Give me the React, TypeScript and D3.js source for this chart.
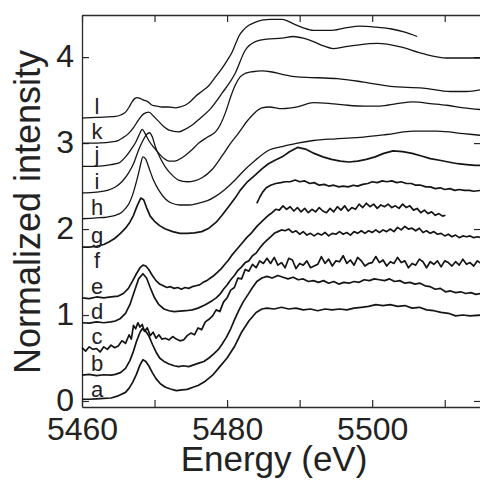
import React, { useEffect, useRef } from 'react';
import * as d3 from 'd3';

type Pt = [number, number];

// axis ticks
const energyTicks = [5460, 5470, 5480, 5490, 5500, 5510];
const energyLabels = [5460, 5480, 5500];
const intensityTicks = [0, 1, 2, 3, 4];

// curve names and where each letter sits (intensity units)
const curveNames = ['a', 'b', 'c', 'd', 'e', 'f', 'g', 'h', 'i', 'j', 'k', 'l'];
const labelLevels = [0.0, 0.3, 0.62, 0.91, 1.2, 1.5, 1.79, 2.12, 2.42, 2.73, 3.0, 3.29];

const curveA: Pt[] = [
  [5460, 0.02], [5461, 0.02], [5462, 0.025], [5463, 0.03], [5464, 0.035], [5465, 0.06], [5466, 0.1],
  [5466.5, 0.15], [5467, 0.22], [5467.5, 0.31], [5468, 0.42], [5468.4, 0.48], [5468.8, 0.46],
  [5469.2, 0.41], [5469.7, 0.33], [5470.2, 0.26], [5470.8, 0.2], [5471.5, 0.16], [5472.2, 0.14],
  [5473, 0.12], [5473.8, 0.13], [5474.5, 0.135], [5475.3, 0.16], [5476, 0.18], [5477, 0.23],
  [5478, 0.3], [5479, 0.4], [5480, 0.5], [5481, 0.63], [5482, 0.8], [5483, 0.93], [5484, 1.03],
  [5484.8, 1.07], [5485.5, 1.08], [5486.5, 1.07], [5487.5, 1.09], [5488.5, 1.07], [5489.5, 1.08],
  [5490.5, 1.06], [5491.5, 1.07], [5492.5, 1.05], [5493.5, 1.07], [5494.5, 1.06], [5495.5, 1.07],
  [5496.5, 1.06], [5497.5, 1.08], [5498.5, 1.09], [5499.5, 1.1], [5500.5, 1.12], [5501.5, 1.11],
  [5502.5, 1.12], [5503.5, 1.1], [5504.5, 1.11], [5505.5, 1.08], [5506.5, 1.09], [5507.5, 1.06],
  [5508.5, 1.05], [5509.5, 1.03], [5510.5, 1.02], [5511.5, 0.99], [5512.5, 1.0], [5513.5, 0.99],
  [5515, 1.0],
];

const curveB: Pt[] = [
  [5460, 0.3], [5461, 0.31], [5462, 0.295], [5463, 0.305], [5464, 0.3], [5464.6, 0.31],
  [5465.3, 0.33], [5466, 0.38], [5466.6, 0.47], [5467.1, 0.58], [5467.5, 0.69], [5468, 0.8],
  [5468.3, 0.84], [5468.7, 0.82], [5469.2, 0.76], [5469.7, 0.66], [5470.2, 0.57], [5470.7, 0.5],
  [5471.3, 0.46], [5472, 0.43], [5472.7, 0.41], [5473.3, 0.4], [5474, 0.41], [5474.7, 0.4],
  [5475.4, 0.42], [5476.1, 0.44], [5476.8, 0.46], [5477.5, 0.5], [5478.2, 0.55], [5478.8, 0.6],
  [5479.3, 0.66], [5479.9, 0.74], [5480.5, 0.84], [5481, 0.94], [5481.6, 1.05], [5482.2, 1.15],
  [5482.9, 1.24], [5483.5, 1.32], [5484.1, 1.39], [5484.8, 1.43], [5485.5, 1.45], [5486.2, 1.43],
  [5487, 1.46], [5487.7, 1.44], [5488.4, 1.42], [5489.1, 1.44], [5489.8, 1.41], [5490.5, 1.42],
  [5491.2, 1.39], [5491.9, 1.4], [5492.6, 1.38], [5493.3, 1.4], [5494, 1.37], [5494.7, 1.39],
  [5495.4, 1.36], [5496.1, 1.38], [5496.8, 1.37], [5497.5, 1.39], [5498.2, 1.38], [5498.9, 1.41],
  [5499.6, 1.4], [5500.3, 1.42], [5501, 1.41], [5501.7, 1.4], [5502.4, 1.42], [5503.1, 1.39],
  [5503.8, 1.4], [5504.5, 1.37], [5505.2, 1.38], [5505.9, 1.36], [5506.6, 1.37], [5507.3, 1.34],
  [5508, 1.33], [5508.7, 1.3], [5509.4, 1.31], [5510.1, 1.27], [5510.8, 1.28], [5511.5, 1.26],
  [5512.2, 1.27], [5512.9, 1.25], [5513.6, 1.26], [5514.3, 1.24], [5515, 1.25],
];

const curveC: Pt[] = [
  [5460, 0.62], [5460.5, 0.58], [5461, 0.63], [5461.5, 0.6], [5462, 0.61], [5462.5, 0.57],
  [5463, 0.63], [5463.5, 0.6], [5464, 0.65], [5464.5, 0.62], [5465, 0.64], [5465.5, 0.7],
  [5466, 0.67], [5466.5, 0.77], [5466.8, 0.72], [5467.1, 0.88], [5467.4, 0.84], [5467.7, 0.91],
  [5468, 0.86], [5468.3, 0.89], [5468.6, 0.81], [5469, 0.85], [5469.4, 0.76], [5469.8, 0.8],
  [5470.2, 0.73], [5470.6, 0.77], [5471, 0.72], [5471.5, 0.73], [5472, 0.71], [5472.5, 0.75],
  [5473, 0.72], [5473.5, 0.7], [5474, 0.71], [5474.5, 0.76], [5475, 0.79], [5475.5, 0.77],
  [5476, 0.85], [5476.5, 0.83], [5477, 0.92], [5477.5, 0.95], [5478, 0.99], [5478.5, 1.06],
  [5479, 1.04], [5479.5, 1.15], [5480, 1.2], [5480.5, 1.29], [5481, 1.32], [5481.5, 1.43],
  [5482, 1.42], [5482.5, 1.53], [5483, 1.51], [5483.5, 1.59], [5484, 1.55], [5484.5, 1.63],
  [5485, 1.6], [5485.5, 1.66], [5486, 1.6], [5486.5, 1.67], [5487, 1.58], [5487.5, 1.61],
  [5488, 1.55], [5488.5, 1.66], [5489, 1.64], [5489.5, 1.54], [5490, 1.6], [5490.5, 1.58],
  [5491, 1.63], [5491.5, 1.55], [5492, 1.57], [5492.5, 1.59], [5493, 1.68], [5493.5, 1.6],
  [5494, 1.65], [5494.5, 1.57], [5495, 1.63], [5495.5, 1.62], [5496, 1.69], [5496.5, 1.6],
  [5497, 1.64], [5497.5, 1.58], [5498, 1.67], [5498.5, 1.63], [5499, 1.57], [5499.5, 1.6],
  [5500, 1.61], [5500.5, 1.68], [5501, 1.61], [5501.5, 1.64], [5502, 1.57], [5502.5, 1.62],
  [5503, 1.6], [5503.5, 1.67], [5504, 1.61], [5504.5, 1.63], [5505, 1.55], [5505.5, 1.6],
  [5506, 1.58], [5506.5, 1.65], [5507, 1.62], [5507.5, 1.55], [5508, 1.62], [5508.5, 1.59],
  [5509, 1.63], [5509.5, 1.56], [5510, 1.63], [5510.5, 1.61], [5511, 1.57], [5511.5, 1.62],
  [5512, 1.58], [5512.5, 1.65], [5513, 1.59], [5513.5, 1.61], [5514, 1.57], [5514.5, 1.63],
  [5515, 1.6],
];

const curveD: Pt[] = [
  [5460, 0.91], [5461, 0.905], [5462, 0.92], [5463, 0.91], [5464, 0.92], [5464.6, 0.93],
  [5465.3, 0.96], [5466, 1.02], [5466.6, 1.12], [5467.2, 1.27], [5467.8, 1.42], [5468.4, 1.48],
  [5468.9, 1.43], [5469.4, 1.32], [5470, 1.2], [5470.6, 1.12], [5471.3, 1.07], [5472, 1.05],
  [5472.7, 1.04], [5473.5, 1.045], [5474.3, 1.05], [5475.2, 1.06], [5476, 1.08], [5477, 1.12],
  [5478, 1.17], [5478.5, 1.2], [5479, 1.24], [5479.5, 1.3], [5480, 1.35], [5480.5, 1.41],
  [5481, 1.46], [5481.5, 1.52], [5482, 1.56], [5482.5, 1.61], [5483, 1.63], [5483.5, 1.69],
  [5484, 1.72], [5484.5, 1.78], [5485, 1.83], [5485.5, 1.87], [5486, 1.91], [5486.5, 1.95],
  [5487, 1.97], [5487.5, 1.99], [5488, 1.98], [5488.5, 2.0], [5489, 1.96], [5489.5, 1.98],
  [5490, 1.94], [5490.5, 1.97], [5491, 1.93], [5491.5, 1.95], [5492, 1.92], [5492.5, 1.95],
  [5493, 1.93], [5493.5, 1.96], [5494, 1.92], [5494.5, 1.95], [5495, 1.94], [5495.5, 1.97],
  [5496, 1.94], [5496.5, 1.96], [5497, 1.93], [5497.5, 1.97], [5498, 1.95], [5498.5, 1.98],
  [5499, 1.95], [5499.5, 1.98], [5500, 1.96], [5500.5, 1.99], [5501, 1.96], [5501.5, 1.99],
  [5502, 1.97], [5502.5, 2.0], [5503, 1.97], [5503.5, 2.02], [5504, 1.99], [5504.5, 2.03],
  [5505, 2.0], [5505.5, 2.01], [5506, 1.98], [5506.5, 2.01], [5507, 1.96], [5507.5, 1.98],
  [5508, 1.95], [5508.5, 1.97], [5509, 1.94], [5509.5, 1.95], [5510, 1.92], [5510.5, 1.94],
  [5511, 1.91], [5511.5, 1.93], [5512, 1.9], [5512.5, 1.92], [5513, 1.91], [5513.5, 1.92],
  [5514, 1.9], [5514.5, 1.91], [5515, 1.9],
];

const curveE: Pt[] = [
  [5460, 1.2], [5461, 1.19], [5462, 1.21], [5463, 1.2], [5464, 1.21], [5465, 1.22], [5465.7, 1.25],
  [5466.4, 1.31], [5467, 1.4], [5467.5, 1.48], [5468, 1.55], [5468.4, 1.58], [5468.8, 1.57],
  [5469.2, 1.53], [5469.7, 1.46], [5470.2, 1.4], [5470.7, 1.36], [5471.2, 1.34], [5471.7, 1.32],
  [5472.2, 1.33], [5472.7, 1.31], [5473.2, 1.32], [5473.7, 1.3], [5474.2, 1.32], [5474.7, 1.31],
  [5475.2, 1.33], [5475.7, 1.34], [5476.2, 1.35], [5476.7, 1.38], [5477.2, 1.4], [5477.7, 1.43],
  [5478.2, 1.46], [5478.7, 1.5], [5479.2, 1.54], [5479.7, 1.59], [5480.2, 1.64], [5480.7, 1.7],
  [5481.2, 1.75], [5481.7, 1.8], [5482.2, 1.85], [5482.7, 1.9], [5483.2, 1.94], [5483.7, 1.99],
  [5484.2, 2.04], [5484.7, 2.08], [5485.2, 2.12], [5485.7, 2.16], [5486.2, 2.19], [5486.7, 2.23],
  [5487.2, 2.22], [5487.7, 2.27], [5488.2, 2.23], [5488.7, 2.26], [5489.2, 2.21], [5489.7, 2.25],
  [5490.2, 2.2], [5490.7, 2.24], [5491.2, 2.19], [5491.7, 2.23], [5492.2, 2.2], [5492.7, 2.25],
  [5493.2, 2.21], [5493.7, 2.19], [5494.2, 2.24], [5494.7, 2.2], [5495.2, 2.26], [5495.7, 2.22],
  [5496.2, 2.27], [5496.7, 2.21], [5497.2, 2.25], [5497.7, 2.23], [5498.2, 2.29], [5498.7, 2.25],
  [5499.2, 2.3], [5499.7, 2.26], [5500.2, 2.29], [5500.7, 2.24], [5501.2, 2.28], [5501.7, 2.26],
  [5502.2, 2.29], [5502.7, 2.25], [5503.2, 2.27], [5503.7, 2.24], [5504.2, 2.29], [5504.7, 2.25],
  [5505.2, 2.27], [5505.7, 2.22], [5506.2, 2.24], [5506.7, 2.19], [5507.2, 2.22], [5507.7, 2.18],
  [5508.2, 2.2], [5508.7, 2.16], [5509.2, 2.18], [5509.7, 2.15], [5510.1, 2.16],
];

const curveF: Pt[] = [
  [5484.1, 2.3], [5484.5, 2.37], [5484.9, 2.43], [5485.4, 2.48], [5486, 2.51], [5486.7, 2.53],
  [5487.4, 2.54], [5488, 2.55], [5488.7, 2.55], [5489.4, 2.57], [5490, 2.55], [5490.7, 2.56],
  [5491.4, 2.53], [5492, 2.54], [5492.7, 2.51], [5493.4, 2.52], [5494, 2.5], [5494.7, 2.51],
  [5495.4, 2.49], [5496, 2.5], [5496.7, 2.49], [5497.4, 2.51], [5498, 2.5], [5498.7, 2.52],
  [5499.4, 2.53], [5500, 2.55], [5500.7, 2.54], [5501.4, 2.56], [5502, 2.55], [5502.7, 2.56],
  [5503.4, 2.54], [5504, 2.55], [5504.7, 2.53], [5505.4, 2.53], [5506, 2.51], [5506.7, 2.51],
  [5507.4, 2.49], [5508, 2.49], [5508.7, 2.47], [5509.4, 2.48], [5510, 2.46], [5510.7, 2.47],
  [5511.4, 2.45], [5512, 2.46], [5512.7, 2.45], [5513.4, 2.45], [5514, 2.44], [5515, 2.45],
];

const curveG: Pt[] = [
  [5460, 1.79], [5461, 1.79], [5462, 1.8], [5463, 1.82], [5463.7, 1.85], [5464.5, 1.89],
  [5465.3, 1.95], [5466, 2.01], [5466.6, 2.08], [5467.1, 2.16], [5467.6, 2.27], [5468.1, 2.36],
  [5468.5, 2.34], [5468.9, 2.25], [5469.4, 2.15], [5470, 2.09], [5470.7, 2.04], [5471.5, 2.0],
  [5472.5, 1.97], [5473.5, 1.95], [5474.5, 1.95], [5475.5, 1.955], [5476.5, 1.97], [5477.5, 2.01],
  [5478.5, 2.08], [5479.3, 2.16], [5480.2, 2.26], [5481.1, 2.36], [5481.8, 2.45], [5482.8, 2.55],
  [5483.9, 2.63], [5484.8, 2.7], [5485.7, 2.76], [5486.6, 2.8], [5487.6, 2.84], [5488.6, 2.9],
  [5489.7, 2.95], [5490.8, 2.93], [5492, 2.88], [5493.2, 2.84], [5494.4, 2.81], [5495.6, 2.79],
  [5496.8, 2.78], [5498, 2.79], [5499.2, 2.81], [5500.4, 2.84], [5501.6, 2.88], [5502.9, 2.91],
  [5504.2, 2.9], [5505.5, 2.88], [5506.8, 2.85], [5508, 2.82], [5509.3, 2.8], [5510.5, 2.78],
  [5511.8, 2.76], [5513, 2.75], [5514.2, 2.74], [5515, 2.74],
];

const curveH: Pt[] = [
  [5460, 2.12], [5462, 2.13], [5463.5, 2.14], [5464.6, 2.16], [5465.4, 2.19], [5466, 2.24],
  [5466.5, 2.3], [5466.9, 2.38], [5467.4, 2.52], [5467.8, 2.65], [5468.1, 2.76], [5468.4, 2.84],
  [5468.8, 2.81], [5469.2, 2.72], [5469.8, 2.58], [5470.6, 2.45], [5471.5, 2.35], [5472.4, 2.3],
  [5473.5, 2.28], [5474.7, 2.28], [5476, 2.3], [5477.3, 2.33], [5478.4, 2.38], [5479.7, 2.46],
  [5481.1, 2.57], [5482.2, 2.67], [5483.9, 2.8], [5485.8, 2.92], [5487.6, 2.96], [5489.7, 3.0],
  [5491.9, 3.03], [5495, 3.05], [5498.8, 3.07], [5502, 3.1], [5505.7, 3.14], [5509, 3.14],
  [5512.6, 3.11], [5515, 3.09],
];

const curveI: Pt[] = [
  [5460, 2.42], [5462, 2.43], [5463.5, 2.45], [5464.6, 2.49], [5465.5, 2.55], [5466.4, 2.65],
  [5467.1, 2.76], [5467.8, 2.92], [5468.4, 3.03], [5468.9, 3.1], [5469.3, 3.12], [5469.7, 3.07],
  [5470.1, 2.96], [5470.7, 2.84], [5471.5, 2.72], [5472.4, 2.63], [5473.3, 2.57], [5474.5, 2.55],
  [5475.5, 2.56], [5476.6, 2.6], [5477.9, 2.69], [5479.3, 2.85], [5480.5, 3.0], [5481.6, 3.12],
  [5482.8, 3.26], [5483.9, 3.36], [5484.8, 3.41], [5485.8, 3.42], [5487.6, 3.4], [5489.7, 3.42],
  [5491.9, 3.47], [5494.2, 3.46], [5496.6, 3.44], [5499, 3.43], [5501.1, 3.43], [5503.4, 3.46],
  [5505.7, 3.48], [5508, 3.46], [5510.3, 3.44], [5512.6, 3.41], [5515, 3.39],
];

const curveJ: Pt[] = [
  [5460, 2.73], [5462, 2.73], [5464, 2.75], [5465.1, 2.77], [5466, 2.84], [5466.8, 2.93],
  [5467.4, 3.01], [5467.9, 3.1], [5468.3, 3.16], [5468.7, 3.11], [5469.2, 3.03], [5469.9, 2.95],
  [5470.6, 2.88], [5471.3, 2.82], [5472, 2.79], [5472.8, 2.79], [5473.8, 2.83], [5475, 2.91],
  [5476.1, 3.0], [5477.3, 3.07], [5478.4, 3.13], [5479.1, 3.22], [5479.8, 3.36], [5480.5, 3.54],
  [5481.1, 3.67], [5481.8, 3.77], [5482.5, 3.81], [5483.5, 3.83], [5484.8, 3.84], [5486, 3.83],
  [5487.6, 3.8], [5489.7, 3.77], [5492.5, 3.76], [5495.2, 3.75], [5498.8, 3.71], [5502.5, 3.66],
  [5507, 3.64], [5510.8, 3.6], [5513, 3.6], [5515, 3.62],
];

const curveK: Pt[] = [
  [5460, 3.0], [5462, 3.0], [5464.6, 3.02], [5465.6, 3.06], [5466.4, 3.11], [5467.1, 3.18],
  [5467.8, 3.27], [5468.5, 3.34], [5469.2, 3.36], [5469.9, 3.31], [5470.6, 3.25], [5471.3, 3.19],
  [5472, 3.15], [5473.3, 3.13], [5474.2, 3.16], [5475.2, 3.21], [5476.3, 3.29], [5477.5, 3.38],
  [5479.3, 3.58], [5481.1, 3.81], [5482.5, 4.08], [5483.9, 4.18], [5485.5, 4.21], [5487.6, 4.22],
  [5489.1, 4.24], [5490.5, 4.22], [5491.9, 4.18], [5493.3, 4.13], [5494.6, 4.1], [5496.2, 4.12],
  [5497.9, 4.14], [5500.7, 4.16], [5503.9, 4.12], [5507, 4.04], [5510.3, 3.99], [5515, 3.99],
];

const curveL: Pt[] = [
  [5460, 3.29], [5462, 3.3], [5464.6, 3.31], [5465.4, 3.33], [5466, 3.36], [5466.5, 3.42],
  [5466.9, 3.48], [5467.3, 3.52], [5467.6, 3.53], [5468, 3.52], [5468.5, 3.5], [5469.1, 3.48],
  [5469.7, 3.44], [5470.3, 3.43], [5471, 3.42], [5471.9, 3.42], [5472.9, 3.41], [5473.5, 3.42],
  [5474.2, 3.44], [5474.9, 3.48], [5475.6, 3.54], [5476.5, 3.6], [5477.5, 3.67], [5478.4, 3.77],
  [5479.3, 3.87], [5480, 3.96], [5480.7, 4.06], [5481.2, 4.16], [5481.6, 4.24], [5482.3, 4.32],
  [5483, 4.37], [5484, 4.41], [5484.8, 4.43], [5486, 4.44], [5487.6, 4.44], [5489.1, 4.39],
  [5490.5, 4.34], [5491.9, 4.31], [5494.2, 4.31], [5496.3, 4.34], [5498.3, 4.36], [5500.4, 4.35],
  [5502.5, 4.33], [5504.5, 4.29], [5506.2, 4.24],
];

const curves = [curveA, curveB, curveC, curveD, curveE, curveF, curveG, curveH, curveI, curveJ, curveK, curveL];
const noisy = new Set(['a', 'b', 'c', 'd', 'e', 'f', 'g']);

const App = () => {
  const ref = useRef<SVGSVGElement>(null);

  useEffect(() => {
    const width = 480;
    const height = 481;
    const left = 82, right = 481, top = 15, bottom = 407;
    const font = '"Liberation Sans", Arial, Helvetica, sans-serif';
    const ink = '#151515';

    const svg = d3.select(ref.current);
    svg.selectAll('*').remove();
    svg.attr('width', width).attr('height', height);

    const x = d3.scaleLinear().domain([5460, 5515]).range([left, right]);
    const y = d3.scaleLinear().domain([-0.07, 4.49]).range([bottom, top]);

    // Axes, ticks pointing inward on all four sides
    const fmtX = (d: d3.NumberValue) => (energyLabels.includes(+d) ? String(d) : '');
    const axes = svg.append('g').style('color', '#2a2a2a');

    axes.append('g')
      .attr('class', 'x-bottom')
      .attr('transform', `translate(0,${bottom})`)
      .call(d3.axisBottom(x).tickValues(energyTicks).tickSize(-7).tickSizeOuter(0).tickPadding(10).tickFormat(fmtX));
    axes.append('g')
      .attr('transform', `translate(0,${top})`)
      .call(d3.axisTop(x).tickValues(energyTicks).tickSize(-7).tickSizeOuter(0).tickFormat(() => ''));
    axes.append('g')
      .attr('class', 'y-left')
      .attr('transform', `translate(${left},0)`)
      .call(d3.axisLeft(y).tickValues(intensityTicks).tickSize(-7).tickSizeOuter(0).tickPadding(8).tickFormat(d3.format('d')));
    axes.append('g')
      .attr('transform', `translate(${right},0)`)
      .call(d3.axisRight(y).tickValues(intensityTicks).tickSize(-7).tickSizeOuter(0).tickFormat(() => ''));

    axes.selectAll('path.domain').attr('stroke-width', 1.3);
    axes.selectAll('.tick line').attr('stroke-width', 1.2);
    axes.selectAll('.tick text')
      .attr('font-family', font)
      .attr('font-size', 32)
      .attr('fill', '#222');
    // keep the "0" clear of "5460" below it
    axes.select('.y-left').selectAll('.tick text').attr('dy', '0.3em');

    // Spectra
    const line = d3.line<Pt>().x(d => x(d[0])).y(d => y(d[1]));
    curves.forEach((pts, i) => {
      const name = curveNames[i];
      svg.append('path')
        .datum(pts)
        .attr('fill', 'none')
        .attr('stroke', ink)
        .attr('stroke-width', noisy.has(name) ? 1.7 : 1.3)
        .attr('stroke-linejoin', 'round')
        .attr('d', line.curve(noisy.has(name) ? d3.curveLinear : d3.curveMonotoneX)(pts));
    });

    // Curve letters
    svg.append('g')
      .selectAll('text')
      .data(curveNames)
      .join('text')
      .attr('x', 97)
      .attr('y', (d, i) => y(labelLevels[i]) - 4)
      .attr('text-anchor', 'middle')
      .attr('font-family', font)
      .attr('font-size', 22)
      .attr('fill', '#222')
      .text(d => d);

    // Axis titles
    svg.append('text')
      .attr('x', 274)
      .attr('y', 471)
      .attr('text-anchor', 'middle')
      .attr('font-family', font)
      .attr('font-size', 35)
      .attr('fill', '#222')
      .text('Energy (eV)');

    svg.append('text')
      .attr('transform', 'rotate(-90)')
      .attr('x', -212)
      .attr('y', 40)
      .attr('text-anchor', 'middle')
      .attr('font-family', font)
      .attr('font-size', 36)
      .attr('fill', '#222')
      .text('Normalized intensity');
  }, []);

  return <svg ref={ref} style={{ position: 'absolute', left: 0, top: 0 }} />;
};

export default App;
